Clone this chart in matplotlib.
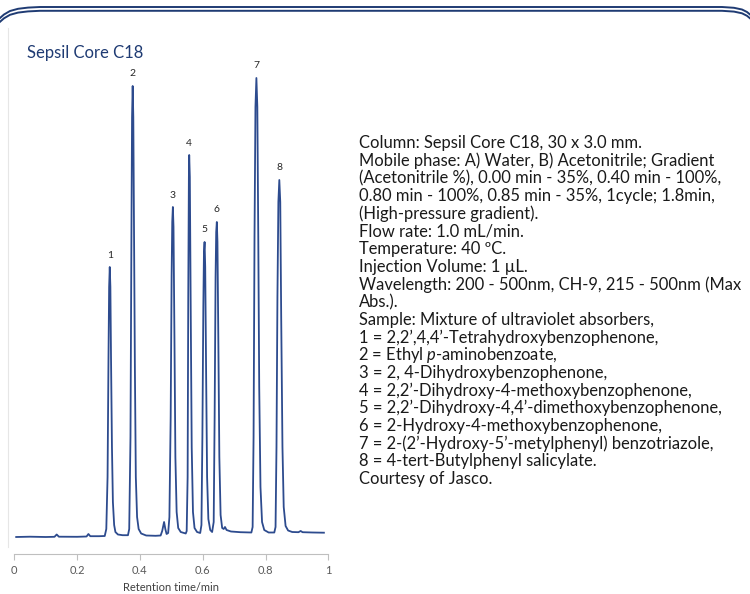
import numpy as np
import matplotlib
matplotlib.use("Agg")
import matplotlib.pyplot as plt
from matplotlib.lines import Line2D

plt.rcParams['font.family'] = ['Lato', 'DejaVu Sans']
plt.rcParams['mathtext.fontset'] = 'custom'
plt.rcParams['mathtext.it'] = 'Lato:italic'
plt.rcParams['mathtext.rm'] = 'Lato'

# chromatogram trace (time in min, signal in arbitrary units)
time_min = [0.006, 0.05, 0.10, 0.128, 0.135, 0.142, 0.20, 0.230, 0.236, 0.242, 0.27,
            0.288, 0.293, 0.297, 0.300, 0.302, 0.304, 0.306, 0.308, 0.311, 0.314, 0.318, 0.322, 0.330, 0.345,
            0.362, 0.366, 0.370, 0.373, 0.375, 0.377, 0.379, 0.381, 0.384, 0.387, 0.391, 0.396, 0.404,
            0.42, 0.45, 0.466, 0.471, 0.477, 0.481, 0.485, 0.490,
            0.494, 0.498, 0.501, 0.503, 0.505, 0.507, 0.510, 0.513, 0.517, 0.522, 0.530,
            0.546, 0.549, 0.552, 0.554, 0.556, 0.557, 0.559, 0.562, 0.565, 0.569, 0.574, 0.582,
            0.592, 0.596, 0.599, 0.602, 0.604, 0.606, 0.608, 0.611, 0.614, 0.618, 0.624,
            0.630, 0.635, 0.638, 0.641, 0.643, 0.645, 0.647, 0.650, 0.653, 0.657, 0.662,
            0.667, 0.671, 0.676, 0.690, 0.72,
            0.755, 0.759, 0.762, 0.765, 0.768, 0.771, 0.774, 0.777, 0.780, 0.784, 0.789, 0.796, 0.810,
            0.828, 0.832, 0.835, 0.838, 0.841, 0.844, 0.847, 0.850, 0.854, 0.858, 0.864, 0.872, 0.885,
            0.905, 0.912, 0.918, 0.95, 0.986]
signal = [0, 0.3, 0, 0.2, 2.5, 0.3, 0.2, 0.5, 3, 0.8, 0.8,
          1, 8, 60, 180, 250, 270, 250, 180, 90, 35, 12, 5, 2.5, 1.8,
          1.8, 8, 100, 300, 420, 451, 420, 320, 170, 60, 20, 8, 3.5,
          1.5, 1.2, 1.5, 6, 15, 8, 3, 4,
          20, 120, 260, 315, 330, 310, 200, 80, 25, 9, 5,
          3.5, 6, 60, 240, 360, 382, 360, 220, 90, 25, 9, 5,
          4, 12, 100, 230, 285, 295, 270, 160, 60, 18, 7,
          5, 15, 120, 260, 305, 315, 295, 190, 80, 22, 9,
          8, 10, 7, 5.5, 4.8,
          4.5, 10, 100, 300, 430, 459, 430, 300, 150, 50, 15, 7, 4.5,
          4.5, 10, 90, 240, 335, 357, 335, 220, 90, 30, 11, 6.5, 5,
          4.8, 6, 4.8, 4.5, 4.3]

peak_ids = ['1', '2', '3', '4', '5', '6', '7', '8']
peak_times = [0.304, 0.377, 0.505, 0.557, 0.606, 0.645, 0.771, 0.844]
peak_heights = [270, 451, 330, 382, 295, 315, 459, 357]

x_ticks = [0, 0.2, 0.4, 0.6, 0.8, 1]
x_tick_labels = ['0', '0.2', '0.4', '0.6', '0.8', '1']

info_lines = [
    "Column: Sepsil Core C18, 30 x 3.0 mm.",
    "Mobile phase: A) Water, B) Acetonitrile; Gradient",
    "(Acetonitrile %), 0.00 min - 35%, 0.40 min - 100%,",
    "0.80 min - 100%, 0.85 min - 35%, 1cycle; 1.8min,",
    "(High-pressure gradient).",
    "Flow rate: 1.0 mL/min.",
    "Temperature: 40 ºC.",
    "Injection Volume: 1 µL.",
    "Wavelength: 200 - 500nm, CH-9, 215 - 500nm (Max",
    "Abs.).",
    "Sample: Mixture of ultraviolet absorbers,",
    "1 = 2,2’,4,4’-Tetrahydroxybenzophenone,",
    "2 = Ethyl $\\it{p}$-aminobenzoate,",
    "3 = 2, 4-Dihydroxybenzophenone,",
    "4 = 2,2’-Dihydroxy-4-methoxybenzophenone,",
    "5 = 2,2’-Dihydroxy-4,4’-dimethoxybenzophenone,",
    "6 = 2-Hydroxy-4-methoxybenzophenone,",
    "7 = 2-(2’-Hydroxy-5’-metylphenyl) benzotriazole,",
    "8 = 4-tert-Butylphenyl salicylate.",
    "Courtesy of Jasco.",
]

W, H = 750, 594
fig = plt.figure(figsize=(7.5, 5.94), dpi=100)
navy = '#1F3B73'

# slide frame
def px(x, y):
    return x / W, 1 - y / H

for off in (0, 3.8):
    xs = [0, 4, 10, 18, 28, 40, 700, 722, 734, 742, 747, 750]
    ys = [18, 14.5, 11, 8.8, 7.6, 7.0, 7.0, 7.0, 7.8, 9.5, 12, 14.5]
    pts = [px(x, y + off) for x, y in zip(xs, ys)]
    fig.add_artist(Line2D([p[0] for p in pts], [p[1] for p in pts],
                          color=navy, lw=1.4, transform=fig.transFigure))
fig.add_artist(Line2D([8 / W, 8 / W], [1 - 28 / H, 1 - 547 / H],
                      color='#E6E6E6', lw=0.8, transform=fig.transFigure))

fig.text(27 / W, 1 - 53 / H, "Sepsil Core C18", color=navy, fontsize=12,
         ha='left', va='center')

ax = fig.add_axes([14.3 / W, (H - 554) / H, 314 / W, 497 / H])
ax.plot(time_min, signal, color='#2D4B8E', lw=1.3)
ax.set_xlim(0, 1)
ax.set_ylim(-17, 480)

for pid, t, h in zip(peak_ids, peak_times, peak_heights):
    ax.annotate(pid, (t, h), xytext=(0, 12), textcoords='offset pixels',
                ha='center', va='center', fontsize=7.5, color='#262626')

for s in ['top', 'right', 'left']:
    ax.spines[s].set_visible(False)
ax.spines['bottom'].set_color('#BFBFBF')
ax.set_yticks([])
ax.set_xticks(x_ticks)
ax.set_xticklabels(x_tick_labels)
ax.tick_params(axis='x', colors='#BFBFBF', labelcolor='#595959', labelsize=8,
               length=4, direction='out', pad=4)
ax.set_xlabel('Retention time/min', fontsize=8, color='#404040', labelpad=4)
ax.patch.set_alpha(0)

for i, line in enumerate(info_lines):
    x0 = 357.5 if '$' in line else 359
    fig.text(x0 / W, 1 - (143 + i * 17.68) / H, line, fontsize=11.9,
             color='#1a1a1a', ha='left', va='center')

fig.savefig('out.png', dpi=100)
